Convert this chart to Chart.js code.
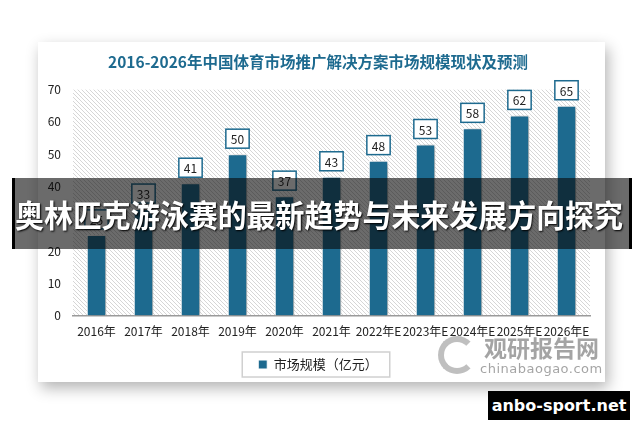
<!DOCTYPE html>
<html lang="zh-CN">
<head>
<meta charset="UTF-8">
<title>2016-2026年中国体育市场推广解决方案市场规模现状及预测</title>
<script src="https://cdn.jsdelivr.net/npm/chart.js"></script>
<style>
  body { margin: 0; width: 640px; height: 426px; background: #fff; position: relative; overflow: hidden; font-family: "Noto Sans CJK SC", sans-serif; }
  .cartao { position: absolute; left: 38px; top: 42px; width: 567px; height: 340px; background: #fff; box-shadow: 3px 6px 14px rgba(0,0,0,0.3); }
  .marca { position: absolute; left: 436px; top: 333px; width: 170px; height: 46px; color: #8e8e8e; opacity: 0.8; pointer-events: none; }
  .marca .logo { position: absolute; left: 2px; top: 3px; width: 26px; height: 26px; border: 6px solid #b0b0b0; border-radius: 50%; border-right-color: transparent; }
  .marca .nome { position: absolute; left: 48px; top: -3px; font-size: 23px; font-weight: bold; }
  .marca .site { position: absolute; left: 44px; top: 28px; font-size: 13px; font-family: "DejaVu Sans", sans-serif; letter-spacing: 0.5px; }
  .faixa { position: absolute; left: 12px; top: 178px; width: 614px; height: 71px; background: rgba(8,8,8,0.6); border-left: 3px solid #000; border-right: 3px solid #000;
           overflow: hidden; }
  .faixa span { position: absolute; left: 0; top: 0; color: #fff; font-family: "Noto Sans CJK SC", sans-serif; font-size: 31px; font-weight: bold; line-height: 71px;
                white-space: nowrap; text-shadow: 1px 1px 2px #000; transform-origin: 0 50%; }
  .selo { position: absolute; left: 488px; top: 391px; width: 142px; height: 29px; background: #000; color: #fff; font-family: "DejaVu Sans", sans-serif;
          font-size: 16px; font-weight: bold; line-height: 29px; text-align: center; }
</style>
</head>
<body>
  <div class="cartao">
    <canvas id="grafico" width="567" height="340"></canvas>
  </div>
  <div class="marca">
    <div class="logo"></div>
    <div class="nome">观研报告网</div>
    <div class="site">chinabaogao.com</div>
  </div>
  <div class="faixa"><span id="faixaTexto">奥林匹克游泳赛的最新趋势与未来发展方向探究</span></div>
  <div class="selo">anbo-sport.net</div>

<script>
  // dados do gráfico
  const anos = ['2016年', '2017年', '2018年', '2019年', '2020年', '2021年', '2022年E', '2023年E', '2024年E', '2025年E', '2026年E'];
  const mercado = [25, 33, 41, 50, 37, 43, 48, 53, 58, 62, 65];
  const ticksY = [0, 10, 20, 30, 40, 50, 60, 70];

  const azul = '#1d6a8f';

  // ajusta o texto da faixa para ocupar a largura (aprox. 610px)
  const faixaTexto = document.getElementById('faixaTexto');
  const larguraTexto = faixaTexto.getBoundingClientRect().width;
  const escalaFaixa = 608 / larguraTexto;
  faixaTexto.style.transform = `translateX(${(614 - 608) / 2 - 3}px) scaleX(${escalaFaixa})`;

  // fundo listrado da área do gráfico
  function criarListras() {
    const c = document.createElement('canvas');
    c.width = 4; c.height = 4;
    const g = c.getContext('2d');
    g.fillStyle = '#ffffff';
    g.fillRect(0, 0, 4, 4);
    g.strokeStyle = '#d6d6d6';
    g.lineWidth = 1;
    g.beginPath();
    g.moveTo(-1, -1); g.lineTo(5, 5);
    g.moveTo(-1, 3); g.lineTo(1, 5);
    g.moveTo(3, -1); g.lineTo(5, 1);
    g.stroke();
    return c;
  }

  const fundoListrado = {
    id: 'fundoListrado',
    beforeDraw(chart) {
      const { ctx, chartArea: a } = chart;
      ctx.save();
      ctx.fillStyle = ctx.createPattern(criarListras(), 'repeat');
      ctx.fillRect(a.left, a.top, a.right - a.left, a.bottom - a.top);
      ctx.restore();
    }
  };

  // sombra nas barras
  const sombra = {
    id: 'sombra',
    beforeDatasetsDraw(chart) {
      const ctx = chart.ctx;
      ctx.save();
      ctx.shadowColor = 'rgba(0,0,0,0.35)';
      ctx.shadowBlur = 5;
      ctx.shadowOffsetX = 3;
      ctx.shadowOffsetY = 1;
    },
    afterDatasetsDraw(chart) {
      chart.ctx.restore();
    }
  };

  // rótulos com caixa acima das barras
  const rotulos = {
    id: 'rotulos',
    afterDatasetsDraw(chart) {
      const ctx = chart.ctx;
      const meta = chart.getDatasetMeta(0);
      ctx.save();
      ctx.font = '12px "Noto Sans CJK SC", sans-serif';
      ctx.textAlign = 'center';
      ctx.textBaseline = 'middle';
      meta.data.forEach((barra, i) => {
        const texto = String(mercado[i]);
        const w = ctx.measureText(texto).width + 10;
        const h = 19;
        const x = barra.x - w / 2;
        const y = barra.y - 6 - h;
        ctx.fillStyle = '#fff';
        ctx.fillRect(x, y, w, h);
        ctx.strokeStyle = azul;
        ctx.lineWidth = 1.5;
        ctx.strokeRect(x, y, w, h);
        ctx.fillStyle = '#222';
        ctx.fillText(texto, barra.x, y + h / 2 + 1);
      });
      ctx.restore();
    }
  };

  // moldura da legenda
  const molduraLegenda = {
    id: 'molduraLegenda',
    afterDraw(chart) {
      const caixa = chart.legend.legendHitBoxes[0];
      if (!caixa) return;
      const ctx = chart.ctx;
      ctx.save();
      ctx.strokeStyle = '#d0d0d0';
      ctx.lineWidth = 1.5;
      ctx.strokeRect(caixa.left - 16, caixa.top - 6, caixa.width + 28, caixa.height + 12);
      ctx.restore();
    }
  };

  new Chart(document.getElementById('grafico'), {
    type: 'bar',
    data: {
      labels: anos,
      datasets: [{
        label: '市场规模（亿元）',
        data: mercado,
        backgroundColor: azul,
        borderColor: '#ffffff',
        borderWidth: 1,
        barPercentage: 0.46,
        categoryPercentage: 0.9
      }]
    },
    options: {
      responsive: false,
      animation: false,
      layout: { padding: { left: 8, right: 15, top: 0, bottom: 1 } },
      plugins: {
        title: {
          display: true,
          text: '2016-2026年中国体育市场推广解决方案市场规模现状及预测',
          color: azul,
          font: { size: 15.5, weight: 'bold', family: '"Noto Sans CJK SC", sans-serif' },
          padding: { top: 11, bottom: 18 }
        },
        legend: {
          position: 'bottom',
          labels: {
            boxWidth: 9,
            boxHeight: 9,
            color: '#222',
            padding: 10,
            font: { size: 13, family: '"Noto Sans CJK SC", sans-serif' }
          }
        },
        tooltip: { enabled: false }
      },
      scales: {
        x: {
          grid: { display: false, drawTicks: false },
          border: { display: true, color: '#9a9a9a', width: 1.5 },
          ticks: {
            autoSkip: false,
            maxRotation: 0,
            padding: 9,
            color: '#222',
            font: { size: 12, family: '"Noto Sans CJK SC", sans-serif' }
          }
        },
        y: {
          min: 0,
          max: 70,
          afterFit(escala) { escala.width = 27; },
          afterBuildTicks(escala) { escala.ticks = ticksY.map(v => ({ value: v })); },
          grid: { display: false, drawTicks: false },
          border: { display: false },
          ticks: {
            padding: 12,
            color: '#222',
            font: { size: 12, family: '"Noto Sans CJK SC", sans-serif' }
          }
        }
      }
    },
    plugins: [fundoListrado, sombra, rotulos, molduraLegenda]
  });
</script>
</body>
</html>
